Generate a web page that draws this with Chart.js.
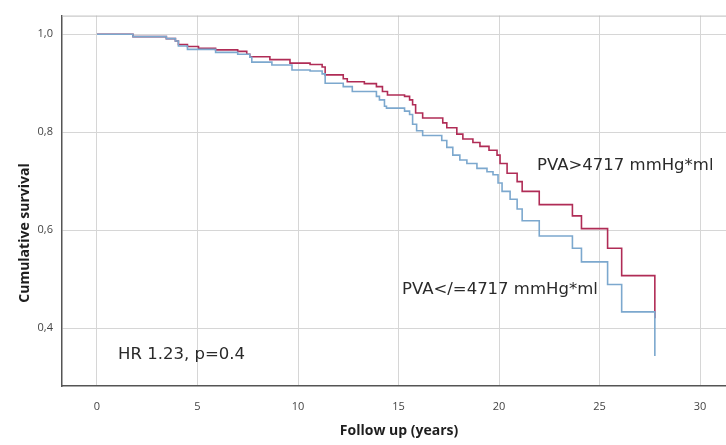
<!DOCTYPE html>
<html lang="en">
  <head>
    <meta charset="utf-8" />
    <title>Cumulative survival by PVA</title>
    <style>
      * {
        margin: 0;
        padding: 0;
      }
      body {
        background: white;
      }
      .chartBox {
        width: 726px;
        height: 445px;
      }
    </style>
  </head>
  <body>
    <div class="chartBox">
      <canvas id="myChart"></canvas>
    </div>

    <script src="https://cdn.jsdelivr.net/npm/chart.js"></script>

    <script>
      // Kaplan-Meier steps (time in years, survival after the step)
      const highTimes = [0, 1.79, 3.45, 3.9, 4.05, 4.5, 5.05, 5.9, 7.0, 7.45, 7.6, 8.6, 9.6, 10.6, 11.2, 11.35, 12.25, 12.45, 13.3, 13.9, 14.2, 14.45, 15.3, 15.55, 15.7, 15.85, 16.2, 17.2, 17.4, 17.9, 18.2, 18.7, 19.05, 19.5, 19.9, 20.05, 20.4, 20.9, 21.15, 22.0, 23.65, 24.1, 25.4, 26.1, 27.75];
      const highSurv = [1.0, 0.995, 0.991, 0.986, 0.979, 0.975, 0.971, 0.968, 0.965, 0.959, 0.954, 0.948, 0.941, 0.938, 0.933, 0.917, 0.909, 0.903, 0.899, 0.893, 0.883, 0.876, 0.873, 0.866, 0.856, 0.839, 0.829, 0.819, 0.809, 0.796, 0.786, 0.779, 0.771, 0.763, 0.753, 0.736, 0.716, 0.699, 0.679, 0.652, 0.629, 0.603, 0.563, 0.507, 0.42];

      const lowTimes = [0, 1.79, 3.45, 3.9, 4.05, 4.5, 5.9, 7.0, 7.6, 7.7, 8.7, 9.7, 10.6, 11.2, 11.35, 12.25, 12.7, 13.9, 14.05, 14.3, 14.4, 15.3, 15.55, 15.7, 15.9, 16.2, 17.15, 17.4, 17.7, 18.05, 18.4, 18.9, 19.4, 19.7, 19.95, 20.15, 20.55, 20.9, 21.15, 22.0, 23.65, 24.1, 25.4, 26.1, 27.75];
      const lowSurv = [1.0, 0.995, 0.991, 0.986, 0.976, 0.969, 0.963, 0.959, 0.953, 0.943, 0.937, 0.927, 0.925, 0.919, 0.9, 0.893, 0.883, 0.873, 0.866, 0.853, 0.849, 0.843, 0.836, 0.816, 0.803, 0.793, 0.783, 0.769, 0.753, 0.743, 0.736, 0.726, 0.719, 0.713, 0.696, 0.679, 0.663, 0.643, 0.619, 0.588, 0.563, 0.535, 0.489, 0.433, 0.343];

      const xTicks = [0, 5, 10, 15, 20, 25, 30];
      const yTicks = [0.4, 0.6, 0.8, 1.0];

      const seriesLabels = ["PVA>4717 mmHg*ml", "PVA</=4717 mmHg*ml"];
      const statText = "HR 1.23, p=0.4";

      function toPoints(times, surv) {
        return times.map((t, i) => ({ x: t, y: surv[i] }));
      }

      const data = {
        datasets: [
          {
            label: seriesLabels[1],
            data: toPoints(lowTimes, lowSurv),
            borderColor: "rgb(124, 168, 206)",
            borderWidth: 1.6,
            stepped: "before",
            pointRadius: 0,
          },
          {
            label: seriesLabels[0],
            data: toPoints(highTimes, highSurv),
            borderColor: "rgb(176, 44, 86)",
            borderWidth: 1.6,
            stepped: "before",
            pointRadius: 0,
          },
        ],
      };

      // axis titles, frame top and the in-plot notes
      const textLayer = {
        id: "textLayer",
        afterDraw(chart) {
          const {
            ctx,
            chartArea,
            scales: { x, y },
          } = chart;
          ctx.save();
          ctx.strokeStyle = "#bdbdbd";
          ctx.lineWidth = 1;
          ctx.beginPath();
          ctx.moveTo(chartArea.left, chartArea.top + 0.5);
          ctx.lineTo(chartArea.right, chartArea.top + 0.5);
          ctx.stroke();

          ctx.fillStyle = "#1e1e1e";
          ctx.textAlign = "center";
          ctx.textBaseline = "middle";
          ctx.font = "bold 14px 'Open Sans'";
          ctx.fillText("Follow up (years)", 399, 431);

          ctx.save();
          ctx.translate(25, 233);
          ctx.rotate(-Math.PI / 2);
          ctx.fillText("Cumulative survival", 0, 0);
          ctx.restore();

          ctx.font = "16.5px 'DejaVu Sans'";
          ctx.textAlign = "left";
          ctx.fillStyle = "#2a2a2a";
          ctx.fillText(seriesLabels[0], x.getPixelForValue(21.89), y.getPixelForValue(0.732));
          ctx.fillText(seriesLabels[1], x.getPixelForValue(15.17), y.getPixelForValue(0.478));
          ctx.fillText(statText, x.getPixelForValue(1.05), y.getPixelForValue(0.346));
          ctx.restore();
        },
      };

      const config = {
        type: "line",
        data: data,
        options: {
          responsive: true,
          maintainAspectRatio: false,
          animation: false,
          layout: {
            padding: { top: 9, right: 0, bottom: 0, left: 0 },
          },
          plugins: {
            legend: { display: false },
            tooltip: { enabled: false },
          },
          scales: {
            x: {
              type: "linear",
              min: -1.741,
              max: 31.29,
              afterBuildTicks: (axis) => {
                axis.ticks = xTicks.map((v) => ({ value: v }));
              },
              afterFit: (axis) => {
                axis.height = 59;
              },
              grid: {
                color: "#d6d6d6",
                drawTicks: false,
              },
              border: { color: "#555", width: 1.5 },
              ticks: {
                color: "#444",
                padding: 14,
                font: { family: "'Open Sans'", size: 11 },
                maxRotation: 0,
              },
            },
            y: {
              min: 0.2816,
              max: 1.038,
              afterBuildTicks: (axis) => {
                axis.ticks = yTicks.map((v) => ({ value: v }));
              },
              afterFit: (axis) => {
                axis.width = 62;
              },
              grid: {
                color: "#d6d6d6",
                drawTicks: false,
              },
              border: { color: "#555", width: 1.5 },
              ticks: {
                color: "#444",
                padding: 9,
                font: { family: "'Open Sans'", size: 11 },
                callback: (value) => value.toFixed(1).replace(".", ","),
              },
            },
          },
        },
        plugins: [textLayer],
      };

      const myChart = new Chart(document.getElementById("myChart"), config);
    </script>
  </body>
</html>
